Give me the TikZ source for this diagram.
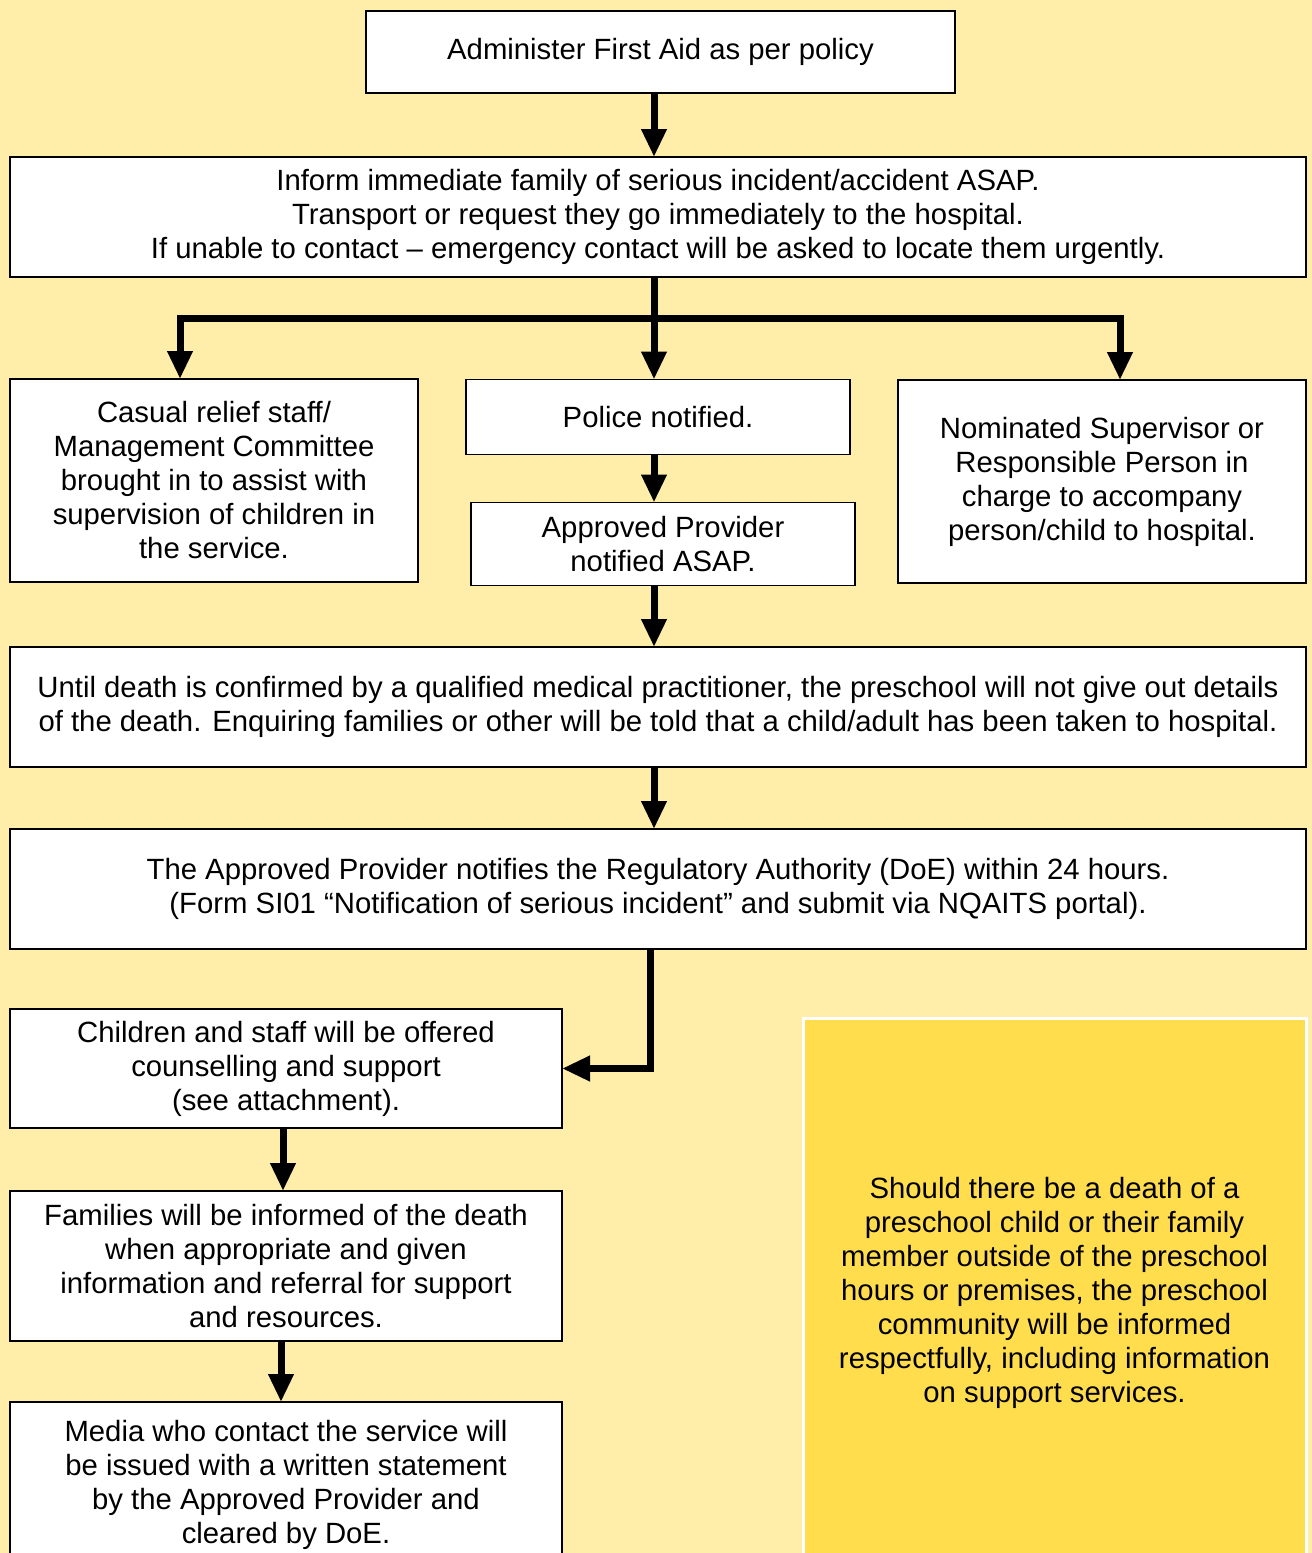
\documentclass[tikz,border=0pt]{standalone}
\usepackage{fontspec}
\setmainfont{Liberation Sans}
\usetikzlibrary{arrows.meta}
\definecolor{paleyellow}{RGB}{255,238,170}
\definecolor{noteyellow}{RGB}{255,221,77}
\begin{document}
\begin{tikzpicture}[
                            x=0.5pt, y=-0.5pt,
                            >={Triangle[width=12pt,length=14pt]},
                            box/.style={rectangle, draw, fill=white, line width=0.6pt, inner sep=0pt, outer sep=0pt, align=center, font=\fontsize{14.65}{17}\selectfont},
                            flow/.style={->, line width=3.5pt}
                        ]
                        % Background
                        \fill [paleyellow] (0,0) rectangle (1312,1553);
                        \clip (0,0) rectangle (1312,1553);

                        % Blocks
                        \node [box, minimum width=294.5pt, minimum height=41pt] (firstaid) at (660.5,52) {Administer First Aid as per policy};
                        \node [box, minimum width=648pt, minimum height=60pt] (inform) at (658,217) {Inform immediate family of serious incident/accident ASAP.\\Transport or request they go immediately to the hospital.\\If unable to contact -- emergency contact will be asked to locate them urgently.};
                        \node [box, minimum width=204pt, minimum height=101.5pt] (casual) at (214,480.5) {Casual relief staff/\\Management Committee\\brought in to assist with\\supervision of children in\\the service.};
                        \node [box, minimum width=192pt, minimum height=37.5pt] (police) at (658,417) {Police notified.};
                        \node [box, minimum width=192pt, minimum height=41.5pt] (provider) at (663,544) {Approved Provider\\notified ASAP.};
                        \node [box, minimum width=204pt, minimum height=101.5pt] (supervisor) at (1102,481.5) {Nominated Supervisor or\\Responsible Person in\\charge to accompany\\person/child to hospital.};
                        \node [box, minimum width=648pt, minimum height=60pt] (untildeath) at (658,707) {Until death is confirmed by a qualified medical practitioner, the preschool will not give out details\\of the death. Enquiring families or other will be told that a child/adult has been taken to hospital.};
                        \node [box, minimum width=648pt, minimum height=60pt] (regulator) at (658,889) {The Approved Provider notifies the Regulatory Authority (DoE) within 24 hours.\\(Form SI01 \textquotedblleft Notification of serious incident\textquotedblright{} and submit via NQAITS portal).};
                        \node [box, minimum width=276pt, minimum height=59.5pt] (counsel) at (286,1068.5) {Children and staff will be offered\\counselling and support\\(see attachment).};
                        \node [box, minimum width=276pt, minimum height=75pt] (families) at (286,1266) {Families will be informed of the death\\when appropriate and given\\information and referral for support\\and resources.};
                        \node [box, minimum width=276pt, minimum height=83pt] (media) at (286,1485) {Media who contact the service will\\be issued with a written statement\\by the Approved Provider and\\cleared by DoE.};
                        \node [box, draw=white, line width=1.5pt, fill=noteyellow, minimum width=251.5pt, minimum height=275pt] (outside) at (1054.5,1293) {Should there be a death of a\\preschool child or their family\\member outside of the preschool\\hours or premises, the preschool\\community will be informed\\respectfully, including information\\on support services.};

                        % Connections
                        \coordinate (spine) at (654,0);
                        \coordinate (split) at (654,318);
                        \draw [flow] (firstaid.south -| spine) -- (inform.north -| spine);
                        \draw [flow] (inform.south -| spine) -- (police.north -| spine);
                        \draw [flow] (split) -| ([xshift=-17pt]casual.north);
                        \draw [flow] (split) -| ([xshift=9pt]supervisor.north);
                        \draw [flow] (police.south -| spine) -- (provider.north -| spine);
                        \draw [flow] (provider.south -| spine) -- (untildeath.north -| spine);
                        \draw [flow] (untildeath.south -| spine) -- (regulator.north -| spine);
                        \draw [flow] ([xshift=-4pt]regulator.south) |- (counsel.east);
                        \draw [flow] ([xshift=-1.5pt]counsel.south) -- ([xshift=-1.5pt]families.north);
                        \draw [flow] ([xshift=-2.5pt]families.south) -- ([xshift=-2.5pt]media.north);
                    \end{tikzpicture}
\end{document}
